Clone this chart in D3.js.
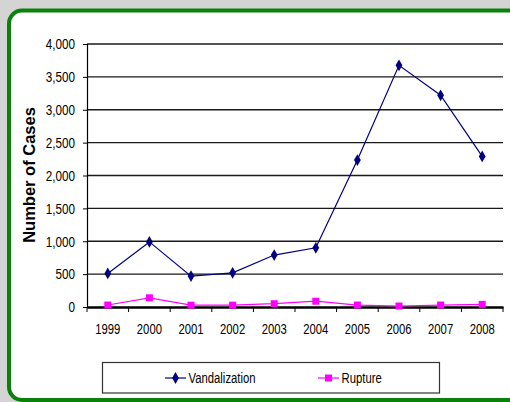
<!DOCTYPE html>
<html><head><meta charset="utf-8">
<script src="https://cdn.jsdelivr.net/npm/d3@7"></script>
<style>
html,body{margin:0;padding:0;background:#d4d4d4;}
svg{display:block;}
</style></head>
<body>
<svg id="c" width="510" height="402"></svg>
<script>
const years = ["1999","2000","2001","2002","2003","2004","2005","2006","2007","2008"];
const vandalization = [510, 990, 470, 520, 790, 900, 2235, 3675, 3220, 2290];
const rupture = [30, 140, 28, 28, 50, 88, 30, 15, 30, 40];
const yTicks = [0, 500, 1000, 1500, 2000, 2500, 3000, 3500, 4000];
const seriesNames = ["Vandalization", "Rupture"];

const svg = d3.select("#c");
const W = 510, H = 402;
const SX = 0.78;
svg.append("rect").attr("width", W).attr("height", H).attr("fill", "#d4d4d4");
svg.append("rect").attr("x", 9).attr("y", 10.5).attr("width", 540).attr("height", 389.5)
  .attr("rx", 13).attr("fill", "#fff").attr("stroke", "#0a820a").attr("stroke-width", 4);

const L = 87, R = 503, T = 44, B = 307;
const x = d3.scaleBand().domain(years).range([L, R]);
const y = d3.scaleLinear().domain([0, 4000]).range([B, T]);
const fmt = d3.format(",");
const tickFont = "'Liberation Sans',Arial,sans-serif";

// gridlines
svg.append("g").selectAll("line").data(yTicks.filter(d => d > 0)).join("line")
  .attr("x1", L).attr("x2", R).attr("y1", d => y(d)).attr("y2", d => y(d))
  .attr("stroke", "#1a1a1a").attr("stroke-width", 1.3);

// y axis
const ya = svg.append("g").attr("transform", `translate(${L},0)`)
  .call(d3.axisLeft(y).tickValues(yTicks).tickFormat(fmt).tickSize(4).tickPadding(5));
ya.select(".domain").attr("stroke", "#000").attr("stroke-width", 1.2);
ya.selectAll(".tick line").attr("stroke", "#000");
ya.selectAll("text").attr("font-family", tickFont).attr("font-size", 15).attr("fill", "#000")
  .attr("x", -12 / SX).attr("transform", `scale(${SX},1)`);

// x axis
const xa = svg.append("g").attr("transform", `translate(0,${B})`)
  .call(d3.axisBottom(x).tickSize(0).tickPadding(17));
xa.select(".domain").attr("stroke", "#000").attr("stroke-width", 2.4);
xa.selectAll("text").attr("font-family", tickFont).attr("font-size", 14.5).attr("fill", "#000")
  .attr("transform", `scale(${SX},1)`);
const bounds = years.map(d => x(d)).concat([R]);
svg.append("g").selectAll("line").data(bounds).join("line")
  .attr("x1", d => d).attr("x2", d => d).attr("y1", B).attr("y2", B + 5)
  .attr("stroke", "#000").attr("stroke-width", 1);

// y title
svg.append("text").attr("transform", `translate(35,175) rotate(-90)`)
  .attr("text-anchor", "middle").attr("font-family", "'Liberation Sans',Arial,sans-serif")
  .attr("font-weight", "bold").attr("font-size", 16.5).attr("fill", "#000").text("Number of Cases");

const cx = d => x(d) + x.bandwidth() / 2;
const line = d3.line().x((d, i) => cx(years[i])).y(d => y(d));

// Vandalization
svg.append("path").datum(vandalization).attr("d", line).attr("fill", "none")
  .attr("stroke", "#000080").attr("stroke-width", 1.2);
const diamond = d3.symbol().type(d3.symbolDiamond).size(40);
svg.append("g").selectAll("path").data(vandalization).join("path")
  .attr("d", diamond).attr("transform", (d, i) => `translate(${cx(years[i])},${y(d)})`)
  .attr("fill", "#000080");

// Rupture
svg.append("path").datum(rupture).attr("d", line).attr("fill", "none")
  .attr("stroke", "#ff00ff").attr("stroke-width", 1.2);
svg.append("g").selectAll("rect").data(rupture).join("rect")
  .attr("x", (d, i) => cx(years[i]) - 3.5).attr("y", d => y(d) - 3.5)
  .attr("width", 7).attr("height", 7).attr("fill", "#ff00ff");

// legend
svg.append("rect").attr("x", 102.5).attr("y", 362.5).attr("width", 337).attr("height", 30.5)
  .attr("fill", "#fff").attr("stroke", "#333").attr("stroke-width", 1.2);
const lg = [
  {name: seriesNames[0], x: 165, color: "#000080", mark: "diamond"},
  {name: seriesNames[1], x: 318, color: "#ff00ff", mark: "square"}
];
const ly = 378;
lg.forEach(o => {
  svg.append("line").attr("x1", o.x).attr("x2", o.x + 21).attr("y1", ly).attr("y2", ly)
    .attr("stroke", o.color).attr("stroke-width", 1.2);
  if (o.mark === "diamond") {
    svg.append("path").attr("d", diamond).attr("transform", `translate(${o.x + 10.5},${ly})`).attr("fill", o.color);
  } else {
    svg.append("rect").attr("x", o.x + 7).attr("y", ly - 3.5).attr("width", 7).attr("height", 7).attr("fill", o.color);
  }
  svg.append("text").attr("transform", `translate(${o.x + 23.5},${ly + 5}) scale(${SX},1)`)
    .attr("font-family", tickFont).attr("font-size", 14.5).attr("fill", "#000").text(o.name);
});
</script>
</body></html>
